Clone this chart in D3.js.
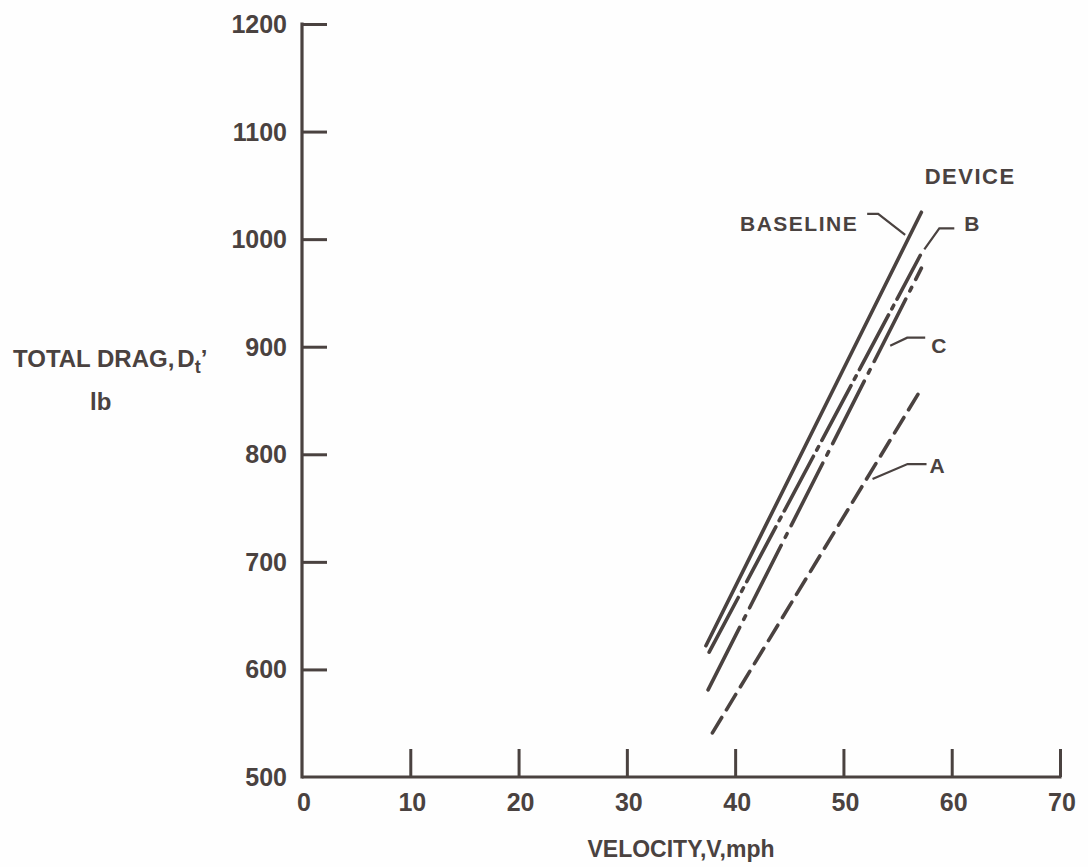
<!DOCTYPE html>
<html>
<head>
<meta charset="utf-8">
<script src="https://cdn.jsdelivr.net/npm/d3@7"></script>
<style>
  html, body { margin: 0; padding: 0; background: #fefefe; }
  svg { display: block; }
  text { font-family: "Liberation Sans", Arial, sans-serif; font-weight: 700; fill: #4a4240; }
</style>
</head>
<body>
<svg id="chart" width="1088" height="867"></svg>
<script>
// ---- data ----
const xTicks = [0, 10, 20, 30, 40, 50, 60, 70];
const yTicks = [500, 600, 700, 800, 900, 1000, 1100, 1200];

const baselineVelocity = [37.3, 57.2];
const baselineDrag     = [622, 1025];
const deviceBVelocity  = [37.6, 57.1];
const deviceBDrag      = [616, 985];
const deviceCVelocity  = [37.5, 57.2];
const deviceCDrag      = [581, 973];
const deviceAVelocity  = [37.9, 57.2];
const deviceADrag      = [541, 861];

const seriesLabels = ["BASELINE", "B", "C", "A"];
const xTitle = "VELOCITY,V,mph";
const legendTitle = "DEVICE";

// ---- layout ----
const ink = "#4a4240";
const svg = d3.select("#chart");
const x = d3.scaleLinear().domain([0, 70]).range([302, 1060]);
const y = d3.scaleLinear().domain([500, 1200]).range([777, 24]);

// y axis (ticks pointing inward)
const yAxis = d3.axisRight(y).tickValues(yTicks).tickSize(25).tickFormat("");
const gy = svg.append("g").attr("transform", `translate(${x(0)},0)`).call(yAxis);
gy.selectAll("path.domain").remove();
gy.selectAll("line").attr("stroke", ink).attr("stroke-width", 3);
gy.select(".tick:first-of-type line").remove();
svg.append("line").attr("x1", x(0)).attr("x2", x(0)).attr("y1", y(1200) - 1.5).attr("y2", y(500) + 1.5)
  .attr("stroke", ink).attr("stroke-width", 3.2);

// x axis (ticks pointing up)
const xAxis = d3.axisTop(x).tickValues(xTicks).tickSize(28).tickFormat("");
const gx = svg.append("g").attr("transform", `translate(0,${y(500)})`).call(xAxis);
gx.selectAll("path.domain").remove();
gx.selectAll("line").attr("stroke", ink).attr("stroke-width", 3);
gx.select(".tick:first-of-type line").remove();
svg.append("line").attr("x1", x(0)).attr("x2", x(70) + 1.5).attr("y1", y(500)).attr("y2", y(500))
  .attr("stroke", ink).attr("stroke-width", 3.2);

// y tick labels
svg.append("g").selectAll("text").data(yTicks).join("text")
  .attr("x", 287).attr("y", d => y(d)).attr("dy", "0.36em")
  .attr("text-anchor", "end").attr("font-size", 25).attr("letter-spacing", 0)
  .text(d => d);

// x tick labels
svg.append("g").selectAll("text").data(xTicks).join("text")
  .attr("x", d => x(d) + 2).attr("y", y(500) + 34)
  .attr("text-anchor", "middle").attr("font-size", 25)
  .text(d => d);

// axis titles
svg.append("text").attr("x", 681).attr("y", 857).attr("text-anchor", "middle")
  .attr("font-size", 23).text(xTitle);

const yt = svg.append("text").attr("x", 13).attr("y", 367).attr("font-size", 24);
yt.append("tspan").text("TOTAL DRAG,");
yt.append("tspan").attr("dx", 3).text("D");
yt.append("tspan").attr("font-size", 18).attr("dy", 6).text("t");
yt.append("tspan").attr("dy", -6).text("\u2019");
svg.append("text").attr("x", 90).attr("y", 410).attr("font-size", 24).text("lb");

// ---- data lines ----
const series = [
  { name: seriesLabels[0], v: baselineVelocity, d: baselineDrag, dash: null },
  { name: seriesLabels[1], v: deviceBVelocity,  d: deviceBDrag,  dash: "62,7,4,7" },
  { name: seriesLabels[2], v: deviceCVelocity,  d: deviceCDrag,  dash: "70,9,4,9" },
  { name: seriesLabels[3], v: deviceAVelocity,  d: deviceADrag,  dash: "18,9" }
];
const line = d3.line().x(p => x(p[0])).y(p => y(p[1]));
svg.append("g").selectAll("path").data(series).join("path")
  .attr("d", s => line(d3.zip(s.v, s.d)))
  .attr("fill", "none").attr("stroke", ink).attr("stroke-width", 3.6)
  .attr("stroke-linecap", "round")
  .attr("stroke-dasharray", s => s.dash);

// ---- annotations (leaders + labels) ----
function pointAt(s, drag) {
  const t = (drag - s.d[0]) / (s.d[1] - s.d[0]);
  const v = s.v[0] + t * (s.v[1] - s.v[0]);
  return [x(v), y(drag)];
}
const notes = [
  { s: series[0], drag: 1004, off: [-5, 0],  path: [[-27, -21], [-38, -21]], text: [-47, -4], anchor: "end" },
  { s: series[1], drag: 985,  off: [4, -6],  path: [[15, -21], [30, -21]],   text: [40, -18], anchor: "start" },
  { s: series[2], drag: 901,  off: [8, 0],   path: [[17, -8], [35, -8]],     text: [41, 7],   anchor: "start" },
  { s: series[3], drag: 777,  off: [6, 0],   path: [[35, -15], [54, -15]],   text: [57, -6],  anchor: "start" }
];
notes.forEach(n => {
  const p = pointAt(n.s, n.drag);
  const e = [p[0] + n.off[0], p[1] + n.off[1]];
  const pts = [e].concat(n.path.map(o => [e[0] + o[0], e[1] + o[1]]));
  svg.append("path").attr("d", d3.line()(pts)).attr("fill", "none")
    .attr("stroke", ink).attr("stroke-width", 2.2);
  svg.append("text").attr("x", e[0] + n.text[0]).attr("y", e[1] + n.text[1])
    .attr("text-anchor", n.anchor).attr("font-size", 21).attr("letter-spacing", 1.5)
    .text(n.s.name);
});
svg.append("text").attr("x", x(57.5)).attr("y", y(1051)).attr("font-size", 22)
  .attr("letter-spacing", 1.5).text(legendTitle);
</script>
</body>
</html>
